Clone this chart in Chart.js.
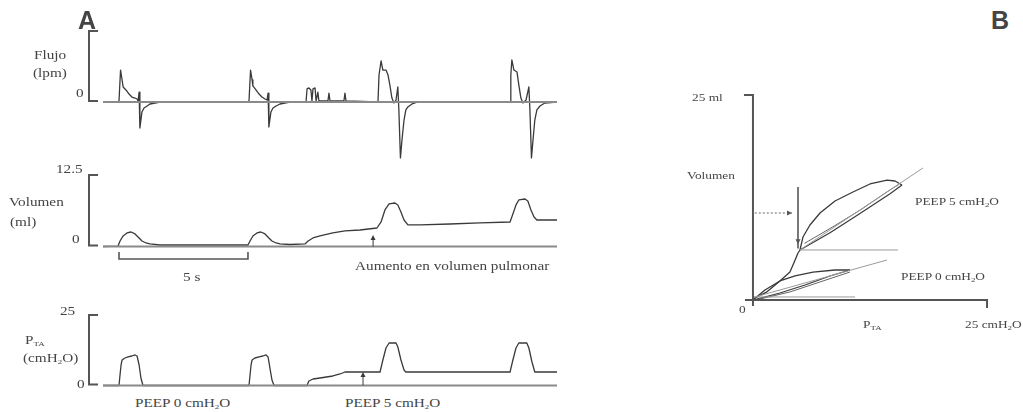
<!DOCTYPE html>
<html>
<head>
<meta charset="utf-8">
<script src="https://cdn.jsdelivr.net/npm/chart.js@4"></script>
<style>
  body { margin: 0; background: #fff; }
  #wrap { position: relative; width: 1023px; height: 412px; overflow: hidden; background: #fff; }
  canvas { position: absolute; }
  .t { position: absolute; font: 12px 'Liberation Serif', serif; color: #444; line-height: 14px;
       white-space: nowrap; transform: scaleX(1.27); transform-origin: 0 50%; }
  .s { font-size: 10.5px; }
  .t sub { font-size: 7px; vertical-align: -2px; }
  .big { position: absolute; font: bold 25px 'Liberation Sans', Arial, sans-serif; color: #444; line-height: 25px; }
</style>
</head>
<body>
<div id="wrap">
  <canvas id="flow" width="480" height="150" style="left:80px;top:20px"></canvas>
  <canvas id="vol" width="480" height="100" style="left:80px;top:165px"></canvas>
  <canvas id="pres" width="480" height="90" style="left:80px;top:305px"></canvas>
  <canvas id="pv" width="310" height="240" style="left:700px;top:80px"></canvas>

  <div class="big" style="left:78px;top:8px">A</div>
  <div class="big" style="left:991px;top:8px">B</div>

  <div class="t" style="left:34px;top:48px">Flujo</div>
  <div class="t" style="left:33px;top:66px">(lpm)</div>
  <div class="t" style="left:76px;top:86px">0</div>

  <div class="t" style="left:56px;top:162px">12.5</div>
  <div class="t" style="left:9px;top:195px">Volumen</div>
  <div class="t" style="left:10px;top:215px">(ml)</div>
  <div class="t" style="left:72px;top:232px">0</div>
  <div class="t" style="left:183px;top:270px">5 s</div>
  <div class="t" style="left:355px;top:259px">Aumento en volumen pulmonar</div>

  <div class="t" style="left:60px;top:304px">25</div>
  <div class="t" style="left:25px;top:333px">P<sub>TA</sub></div>
  <div class="t" style="left:23px;top:351px">(cmH<sub>2</sub>O)</div>
  <div class="t" style="left:77px;top:377px">0</div>
  <div class="t" style="left:135px;top:396px">PEEP 0 cmH<sub>2</sub>O</div>
  <div class="t" style="left:345px;top:396px">PEEP 5 cmH<sub>2</sub>O</div>

  <div class="t s" style="left:692px;top:91px">25 ml</div>
  <div class="t s" style="left:687px;top:169px">Volumen</div>
  <div class="t s" style="left:739px;top:303px">0</div>
  <div class="t s" style="left:863px;top:318px">P<sub>TA</sub></div>
  <div class="t s" style="left:965px;top:318px">25 cmH<sub>2</sub>O</div>
  <div class="t s" style="left:915px;top:195px">PEEP 5 cmH<sub>2</sub>O</div>
  <div class="t s" style="left:901px;top:270px">PEEP 0 cmH<sub>2</sub>O</div>
</div>
<script>
// ---- panel A : time (s) ----
const flowTime = [0, 0.58, 0.62, 0.68, 0.74, 0.78, 0.89, 1.01, 1.12, 1.24, 1.32, 1.36, 1.40, 1.43, 1.51, 1.59, 1.71, 1.82, 2.02, 2.21,
  5.62, 5.66, 5.72, 5.78, 5.81, 5.93, 6.05, 6.16, 6.28, 6.36, 6.40, 6.43, 6.51, 6.59, 6.71, 6.86, 7.05, 7.25,
  7.87, 7.91, 7.98, 8.06, 8.10, 8.14, 8.22, 8.26, 8.33, 8.37, 8.72, 8.76, 8.80, 9.34, 9.38, 9.42,
  10.66, 10.70, 10.78, 10.85, 10.97, 11.05, 11.12, 11.20, 11.28, 11.36, 11.43, 11.47, 11.53, 11.59, 11.67, 11.74, 11.82, 11.98, 12.21,
  15.78, 15.81, 15.85, 15.93, 16.05, 16.12, 16.20, 16.28, 16.40, 16.51, 16.55, 16.61, 16.67, 16.74, 16.82, 16.94, 17.13, 17.60];
const flowValue = [0, 0, 0.07, 2.25, 1.55, 1.06, 0.85, 0.56, 0.35, 0.28, 0.21, 0.07, 0.70, -1.83, -0.70, -0.42, -0.28, -0.14, -0.07, 0,
  0, 0.07, 2.25, 1.55, 1.13, 0.85, 0.56, 0.35, 0.21, 0.14, 0.63, -1.76, -0.70, -0.42, -0.28, -0.14, -0.07, 0,
  0, 0.92, 0.99, 0.85, 0.07, 0.92, 0.99, 0.07, 0.70, 0.07, 0.07, 0.63, 0.07, 0.07, 0.63, 0.07,
  0, 1.90, 2.89, 2.25, 2.25, 1.90, 1.20, 0.28, -0.07, 0.14, 1.06, -0.56, -3.94, -2.68, -1.27, -0.56, -0.35, -0.14, 0,
  0, 1.90, 2.96, 2.25, 2.11, 1.20, 0.28, -0.07, 0.14, 1.06, -0.56, -3.94, -2.68, -1.27, -0.56, -0.28, -0.07, 0];

const volTime = [0, 0.58, 0.66, 0.78, 0.93, 1.09, 1.24, 1.40, 1.51, 1.67, 1.82, 2.21,
  5.62, 5.70, 5.81, 5.97, 6.12, 6.28, 6.43, 6.55, 6.71, 6.86, 7.25,
  7.83, 7.95, 8.14, 8.41, 8.91, 9.38, 9.96, 10.62, 10.78, 10.93, 11.09, 11.32, 11.43, 11.55, 11.67, 11.82,
  12.29, 13.45, 14.61, 15.78, 15.89, 16.01, 16.12, 16.36, 16.47, 16.59, 16.71, 16.82, 17.13, 17.60];
const volValue = [0, 0.05, 0.96, 1.84, 2.36, 2.53, 2.19, 1.49, 0.96, 0.61, 0.44, 0.26,
  0.26, 0.96, 1.84, 2.36, 2.53, 2.19, 1.49, 0.96, 0.61, 0.44, 0.35,
  0.44, 0.96, 1.49, 1.84, 2.36, 2.71, 2.88, 3.23, 4.28, 6.38, 7.43, 7.60, 7.26, 6.03, 4.63, 3.76,
  3.76, 3.93, 4.11, 4.28, 5.68, 7.26, 8.13, 8.30, 7.95, 6.38, 5.16, 4.63, 4.63, 4.63];

const presTime = [0, 0.62, 0.66, 0.70, 0.74, 0.85, 0.97, 1.12, 1.24, 1.32, 1.40, 1.47, 1.55,
  5.66, 5.70, 5.74, 5.78, 5.89, 6.05, 6.20, 6.32, 6.40, 6.47, 6.55, 6.63,
  7.91, 7.98, 8.14, 8.41, 8.91, 9.19, 9.38, 10.74, 10.85, 10.97, 11.09, 11.36, 11.43, 11.55, 11.67, 11.74,
  15.78, 15.89, 16.01, 16.12, 16.43, 16.51, 16.63, 16.74, 17.60];
const presValue = [0, 0, 3.72, 7.27, 9.04, 9.75, 10.11, 10.46, 10.82, 10.46, 7.27, 2.66, 0,
  0, 3.72, 7.27, 9.04, 9.75, 10.11, 10.46, 10.82, 10.11, 6.21, 1.95, 0,
  0, 1.60, 2.30, 2.66, 3.37, 4.08, 4.79, 4.79, 9.04, 13.30, 15.07, 15.07, 13.65, 9.04, 5.50, 4.79,
  4.79, 9.04, 13.30, 15.07, 15.07, 13.30, 8.33, 4.79, 4.79];

const timeEnd = 17.6;
const scaleBar = [0.62, 5.62];        // 5 s
const volArrow = [10.47, 0, 2.0];     // t, from, to
const presArrow = [10.08, 0, 4.8];

// ---- panel B : pressure (cmH2O) vs volume (ml) ----
const loop5UpperP = [5.02, 5.34, 6.09, 7.16, 8.76, 10.68, 12.50, 14.32, 15.17, 15.92];
const loop5UpperV = [6.10, 7.68, 9.15, 10.61, 12.07, 13.17, 14.15, 14.63, 14.51, 14.02];
const loop5LowerP = [15.92, 14.64, 11.43, 8.23, 5.02];
const loop5LowerV = [14.02, 12.95, 10.55, 8.20, 6.10];
const loop5InnerP = [5.5, 8.5, 11.5, 14.6, 15.6];
const loop5InnerV = [6.9, 8.9, 11.0, 13.4, 14.1];
const rampP = [0, 1.5, 2.88, 3.95, 4.4, 4.81, 5.02];
const rampV = [0.12, 1.0, 2.32, 3.41, 4.6, 5.73, 6.10];
const loop0UpperP = [0, 1.28, 2.88, 4.49, 6.41, 8.76, 10.36];
const loop0UpperV = [0, 1.22, 2.32, 2.93, 3.41, 3.66, 3.66];
const loop0LowerP = [10.36, 8.23, 5.56, 2.88, 0];
const loop0LowerV = [3.66, 2.93, 1.83, 0.85, 0];
const loop0InnerP = [10.36, 7.16, 3.95, 0.75];
const loop0InnerV = [3.41, 2.20, 0.98, 0.12];
const fit5P = [5.02, 18.16], fit5V = [6.10, 16.10];
const fit0P = [0, 14.32], fit0V = [0.3, 4.88];
const peep5LineP = [5.02, 15.49], peep5LineV = [6.10, 6.10];
const peep0LineP = [0, 10.9], peep0LineV = [0.37, 0.37];
const dropLineP = [4.81, 4.81], dropLineV = [13.78, 6.3];
const dashLineP = [0.2, 4.17], dashLineV = [10.61, 10.61];

function pts(xs, ys) { return xs.map((x, i) => ({ x: x, y: ys[i] })); }

const ink = '#3a3a3a';
const axisInk = '#555';

function line(data, color, width, dash) {
  return { data: data, borderColor: color, borderWidth: width, borderDash: dash || [],
           showLine: true, pointRadius: 0, tension: 0, fill: false, borderJoinStyle: 'round' };
}

function arrowHead(ctx, x, y, dx, dy, size) {
  const len = Math.hypot(dx, dy); dx /= len; dy /= len;
  ctx.beginPath();
  ctx.moveTo(x, y);
  ctx.lineTo(x - dx * size - dy * size * 0.5, y - dy * size + dx * size * 0.5);
  ctx.lineTo(x - dx * size + dy * size * 0.5, y - dy * size - dx * size * 0.5);
  ctx.closePath();
  ctx.fill();
}

function bracket(chart, top) {
  const ctx = chart.ctx, y = chart.scales.y;
  const x0 = chart.chartArea.left - 14;
  const y0 = y.getPixelForValue(0), y1 = y.getPixelForValue(top);
  ctx.save();
  ctx.strokeStyle = axisInk; ctx.lineWidth = 2;
  ctx.beginPath();
  ctx.moveTo(x0 + 9, y1); ctx.lineTo(x0, y1); ctx.lineTo(x0, y0 - 1); ctx.lineTo(x0 + 9, y0 - 1);
  ctx.stroke();
  ctx.restore();
}

function upArrow(chart, a) {
  const ctx = chart.ctx, xs = chart.scales.x, ys = chart.scales.y;
  const x = xs.getPixelForValue(a[0]);
  const y0 = ys.getPixelForValue(a[1]), y1 = ys.getPixelForValue(a[2]);
  ctx.save();
  ctx.strokeStyle = ink; ctx.fillStyle = ink; ctx.lineWidth = 1;
  ctx.beginPath(); ctx.moveTo(x, y0); ctx.lineTo(x, y1 + 2); ctx.stroke();
  arrowHead(ctx, x, y1, 0, -1, 5);
  ctx.restore();
}

function stripChart(id, time, value, yMin, yMax, pad, top, extra) {
  new Chart(document.getElementById(id), {
    type: 'scatter',
    data: { datasets: [
      line(pts([0, timeEnd], [0, 0]), '#8a8a8a', 2.2),
      line(pts(time, value), ink, 1.3)
    ] },
    options: {
      responsive: false, animation: false,
      layout: { padding: pad },
      scales: {
        x: { type: 'linear', min: 0, max: timeEnd, display: false },
        y: { type: 'linear', min: yMin, max: yMax, display: false }
      },
      plugins: { legend: { display: false }, tooltip: { enabled: false } }
    },
    plugins: [{ id: 'deco' + id, afterDraw(chart) { bracket(chart, top); if (extra) extra(chart); } }]
  });
}

stripChart('flow', flowTime, flowValue, -4.5, 5.5, { left: 23, right: 3, top: 3.9, bottom: 4.1 }, 5);

stripChart('vol', volTime, volValue, -1, 13, { left: 23, right: 3, top: 7.1, bottom: 12.8 }, 12.5, function (chart) {
  upArrow(chart, volArrow);
  const ctx = chart.ctx, xs = chart.scales.x;
  const xa = xs.getPixelForValue(scaleBar[0]), xb = xs.getPixelForValue(scaleBar[1]);
  const yb = chart.chartArea.bottom + 6.8;
  ctx.save();
  ctx.strokeStyle = axisInk; ctx.lineWidth = 1.6;
  ctx.beginPath();
  ctx.moveTo(xa, yb - 7); ctx.lineTo(xa, yb); ctx.lineTo(xb, yb); ctx.lineTo(xb, yb - 7);
  ctx.stroke();
  ctx.restore();
});

stripChart('pres', presTime, presValue, -1, 26, { left: 23, right: 3, top: 7.2, bottom: 6.7 }, 25, function (chart) {
  upArrow(chart, presArrow);
});

// ---- panel B ----
new Chart(document.getElementById('pv'), {
  type: 'scatter',
  data: { datasets: [
    line(pts(fit5P, fit5V), '#9a9a9a', 1),
    line(pts(fit0P, fit0V), '#9a9a9a', 1),
    line(pts(peep5LineP, peep5LineV), '#9a9a9a', 1),
    line(pts(peep0LineP, peep0LineV), '#9a9a9a', 1),
    line(pts(dropLineP, dropLineV), '#666', 1),
    line(pts(dashLineP, dashLineV), '#666', 1, [2, 2]),
    line(pts(rampP, rampV), ink, 1.3),
    line(pts(loop5UpperP, loop5UpperV), ink, 1.3),
    line(pts(loop5LowerP, loop5LowerV), ink, 1.2),
    line(pts(loop5InnerP, loop5InnerV), '#666', 1),
    line(pts(loop0UpperP, loop0UpperV), ink, 1.3),
    line(pts(loop0LowerP, loop0LowerV), ink, 1.2),
    line(pts(loop0InnerP, loop0InnerV), '#666', 1)
  ] },
  options: {
    responsive: false, animation: false,
    layout: { padding: { left: 43.6, right: 13.6, top: 6.8, bottom: 11.8 } },
    scales: {
      x: { type: 'linear', min: -1, max: 26, display: false },
      y: { type: 'linear', min: -1, max: 26, display: false }
    },
    plugins: { legend: { display: false }, tooltip: { enabled: false } }
  },
  plugins: [{
    id: 'pvAxes',
    afterDraw(chart) {
      const ctx = chart.ctx, xs = chart.scales.x, ys = chart.scales.y;
      const x0 = xs.getPixelForValue(0), x1 = xs.getPixelForValue(25);
      const y0 = ys.getPixelForValue(0), y1 = ys.getPixelForValue(25);
      ctx.save();
      ctx.strokeStyle = axisInk; ctx.lineWidth = 2;
      ctx.beginPath();
      ctx.moveTo(x0 - 9, y1); ctx.lineTo(x0, y1); ctx.lineTo(x0, y0 + 6);
      ctx.moveTo(x0 - 8, y0); ctx.lineTo(x1, y0); ctx.lineTo(x1, y0 + 8);
      ctx.stroke();
      ctx.fillStyle = '#555';
      arrowHead(ctx, xs.getPixelForValue(dashLineP[1]), ys.getPixelForValue(dashLineV[1]), 1, 0, 5);
      arrowHead(ctx, xs.getPixelForValue(dropLineP[1]), ys.getPixelForValue(dropLineV[1]) - 4, 0, 1, 5);
      ctx.restore();
    }
  }]
});
</script>
</body>
</html>
